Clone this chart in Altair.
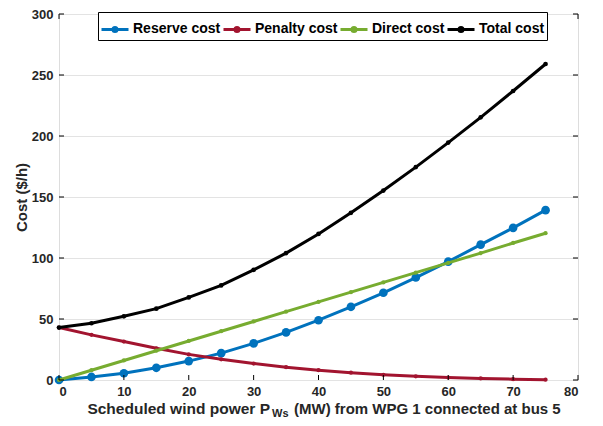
import altair as alt
import pandas as pd

# ---- data ----
wind_mw = [0, 5, 10, 15, 20, 25, 30, 35, 40, 45, 50, 55, 60, 65, 70, 75]
reserve_cost = [0, 2.5, 5.5, 10, 15.5, 22, 30, 39, 49, 60, 71.5, 84, 97, 111, 124.7, 139.2]
penalty_cost = [43, 37, 31.5, 26, 21, 17, 13.5, 10.5, 8, 6, 4.3, 3, 2, 1.3, 0.7, 0.3]
direct_cost = [0, 8, 16, 24, 32, 40, 48, 56, 64, 72, 80, 88, 96, 104, 112.3, 120.3]
total_cost = [43, 46.5, 52.2, 58.5, 67.7, 77.5, 90.3, 104, 119.7, 137, 155.3, 174.5, 194.6, 215.3, 236.9, 259]

series_names = ["Reserve cost", "Penalty cost", "Direct cost", "Total cost"]
series_colors = ["#0072BD", "#A2142F", "#77AC30", "#000000"]
marker_sizes = [75, 18, 18, 22]

x_ticks = [0, 10, 20, 30, 40, 50, 60, 70, 80]
y_ticks = [0, 50, 100, 150, 200, 250, 300]

title_main = "Scheduled wind power P"
title_sub = "Ws"
title_rest = "(MW) from WPG 1 connected at bus 5"
y_title = "Cost ($/h)"

W, H = 519, 366
FONT = "Liberation Sans"

rows = []
for name, vals in zip(series_names, [reserve_cost, penalty_cost, direct_cost, total_cost]):
    for xv, yv in zip(wind_mw, vals):
        rows.append({"x": xv, "cost": yv, "series": name})
df = pd.DataFrame(rows)

xscale = alt.Scale(domain=[0, 80], nice=False, zero=False)
yscale = alt.Scale(domain=[0, 300], nice=False)
cscale = alt.Scale(domain=series_names, range=series_colors)

x_axis = alt.Axis(values=x_ticks, title=None, grid=False, ticks=False,
                  domain=False, labelFont=FONT, labelFontSize=13,
                  labelFontWeight="bold", labelColor="#262626", labelPadding=5)
y_axis = alt.Axis(values=y_ticks, title=y_title, grid=True, gridColor="#e3e3e3",
                  ticks=False, domain=False, labelFont=FONT, labelFontSize=13,
                  labelFontWeight="bold", labelColor="#262626", labelPadding=6,
                  titleFont=FONT, titleFontSize=15, titleFontWeight="bold",
                  titleColor="#262626", titlePadding=2)

legend = alt.Legend(
    title=None, orient="none", legendX=39, legendY=-2, direction="horizontal",
    labelFont=FONT, labelFontSize=14, labelFontWeight="bold", labelColor="black",
    symbolType="M-1,0H1M-0.15,0A0.15,0.15 0 1,0 0.15,0A0.15,0.15 0 1,0 -0.15,0",
    symbolSize=729, symbolStrokeWidth=3, labelOffset=3, columnPadding=-4,
    padding=2, strokeColor="black", fillColor="white",
)

base = alt.Chart(df)
layers = []
for i, name in enumerate(series_names):
    sub = base.transform_filter(alt.datum.series == name)
    layers.append(sub.mark_line(strokeWidth=3).encode(
        x=alt.X("x:Q", scale=xscale, axis=x_axis),
        y=alt.Y("cost:Q", scale=yscale, axis=y_axis),
        color=alt.Color("series:N", scale=cscale, legend=legend),
    ))
    layers.append(sub.mark_point(filled=True, opacity=1, shape="circle").encode(
        x=alt.X("x:Q", scale=xscale, axis=x_axis),
        y=alt.Y("cost:Q", scale=yscale, axis=y_axis),
        color=alt.value(series_colors[i]), size=alt.value(marker_sizes[i]),
    ))

# inward ticks on all four sides (MATLAB box style)
xt = pd.DataFrame({"x": x_ticks})
yt = pd.DataFrame({"cost": y_ticks})
tick_layers = [
    alt.Chart(xt).mark_rule(color="black", strokeWidth=1).encode(
        x=alt.X("x:Q", scale=xscale, axis=x_axis), y=alt.value(H), y2=alt.value(H - 5)),
    alt.Chart(xt).mark_rule(color="black", strokeWidth=1).encode(
        x=alt.X("x:Q", scale=xscale, axis=x_axis), y=alt.value(0), y2=alt.value(5)),
    alt.Chart(yt).mark_rule(color="black", strokeWidth=1).encode(
        y=alt.Y("cost:Q", scale=yscale, axis=y_axis), x=alt.value(0), x2=alt.value(5)),
    alt.Chart(yt).mark_rule(color="black", strokeWidth=1).encode(
        y=alt.Y("cost:Q", scale=yscale, axis=y_axis), x=alt.value(W), x2=alt.value(W - 5)),
]

# x-axis title with subscript
tdf = pd.DataFrame({"t": [0]})
title_layers = [
    alt.Chart(tdf).mark_text(text=title_main, align="right", baseline="alphabetic",
                             font=FONT, fontSize=15.5, fontWeight="bold", color="#262626").encode(
        x=alt.value(211), y=alt.value(400)),
    alt.Chart(tdf).mark_text(text=title_sub, align="left", baseline="alphabetic",
                             font=FONT, fontSize=11, fontWeight="bold", color="#262626").encode(
        x=alt.value(213), y=alt.value(403)),
    alt.Chart(tdf).mark_text(text=title_rest, align="left", baseline="alphabetic",
                             font=FONT, fontSize=15, fontWeight="bold", color="#262626").encode(
        x=alt.value(235), y=alt.value(400)),
]

chart = alt.layer(*layers, *tick_layers, *title_layers).properties(
    width=W, height=H,
    autosize=alt.AutoSizeParams(type="none"),
    padding={"left": 51, "top": 6, "right": 16, "bottom": 38},
).configure_view(stroke="black", strokeWidth=2).configure(background="white")

chart.save("out.html", embed_options={"renderer": "svg", "actions": False})
